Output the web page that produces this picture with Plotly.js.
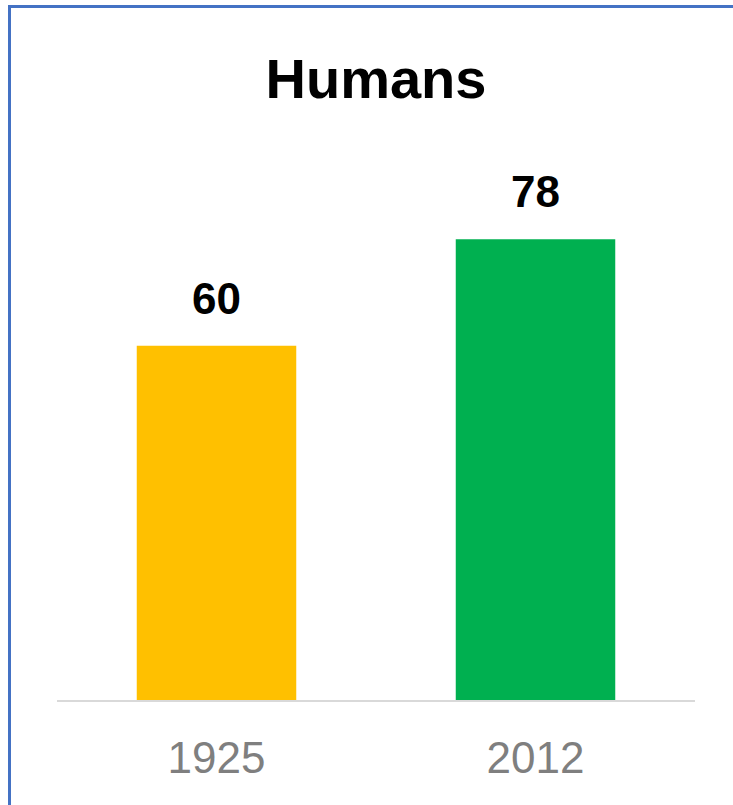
<!DOCTYPE html>
<html>
<head>
<meta charset="utf-8">
<script src="https://cdn.plot.ly/plotly-3.0.1.min.js"></script>
<style>
  html, body { margin: 0; padding: 0; overflow: hidden; background: #ffffff; }
  #chart { width: 733px; height: 805px; }
  #frame { position: absolute; left: 8px; top: 5px; width: 900px; height: 1000px;
           border: 3px solid #4472C4; pointer-events: none; }
</style>
</head>
<body>
<div id="chart"></div>
<div id="frame"></div>
<script>
const chartTitle = "Humans";
const categories = ["1925", "2012"];
const values = [60, 78];
const barColors = ["#FFC000", "#00B050"];

const trace = {
  type: "bar",
  x: categories,
  y: values,
  marker: { color: barColors },
  hoverinfo: "x+y"
};

// annotation x given as category index (numeric-looking category names would be read as indices)
const annotations = categories.map((c, i) => ({
  x: i, y: values[i], xref: "x", yref: "y",
  text: "<b>" + values[i] + "</b>",
  showarrow: false,
  yanchor: "bottom",
  yshift: 21,
  font: { family: "Liberation Sans, Arial, sans-serif", size: 44, color: "#000000" }
}));

const layout = {
  width: 733, height: 805,
  margin: { l: 57, r: 38, t: 100, b: 105 },
  paper_bgcolor: "#ffffff",
  plot_bgcolor: "#ffffff",
  showlegend: false,
  bargap: 0.5,
  title: {
    text: "<b>" + chartTitle + "</b>",
    x: 0.5, xref: "paper", xanchor: "center",
    y: 1 - 78 / 805, yref: "container", yanchor: "middle",
    font: { family: "Liberation Sans, Arial, sans-serif", size: 56, color: "#000000" }
  },
  xaxis: {
    type: "category",
    range: [-0.5, categories.length - 0.5],
    showline: true, linecolor: "#d9d9d9", linewidth: 2,
    ticks: "", showgrid: false, zeroline: false,
    tickfont: { family: "Liberation Sans, Arial, sans-serif", size: 44, color: "#7f7f7f" },
    ticklabelstandoff: 18
  },
  yaxis: {
    range: [0, 101.6],
    visible: false, showgrid: false, zeroline: false
  },
  annotations: annotations
};

Plotly.newPlot("chart", [trace], layout, { displayModeBar: false, staticPlot: true });
</script>
</body>
</html>
